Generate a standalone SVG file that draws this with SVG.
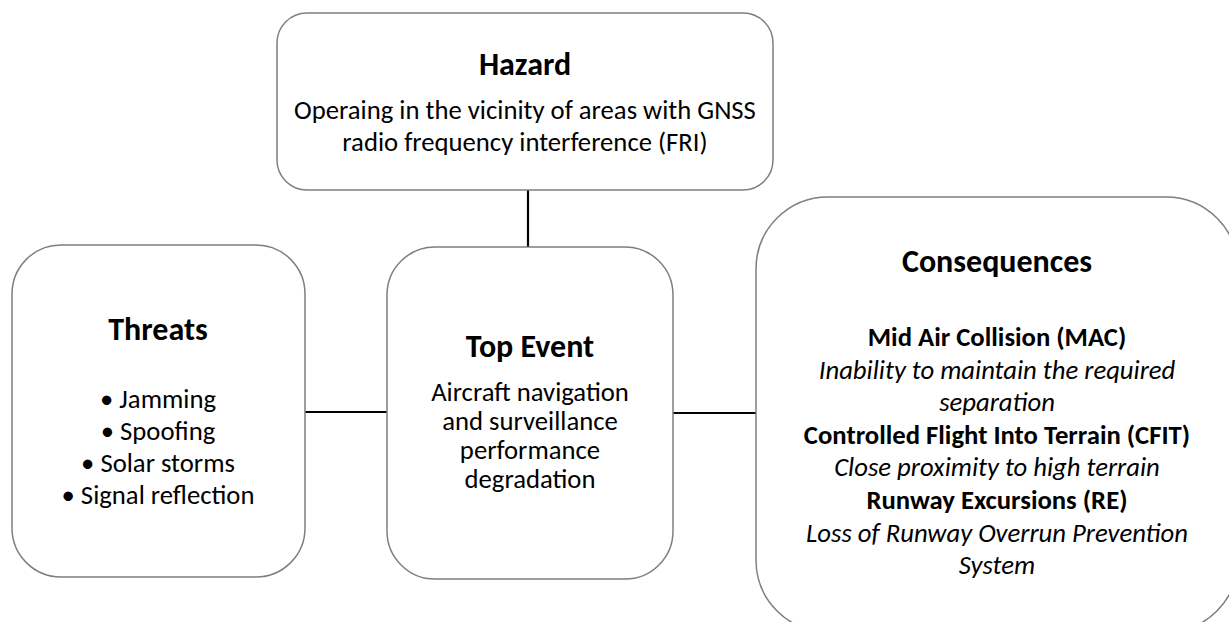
<svg xmlns="http://www.w3.org/2000/svg" width="1229" height="622" viewBox="0 0 1229 622">
<style>
.box{fill:#ffffff;stroke:#7f7f7f;stroke-width:1.5}
.conn{stroke:#000000;stroke-width:2.2;fill:none}
text{font-family:Carlito,Lato,"Liberation Sans",sans-serif;fill:#000000;text-anchor:middle}
.t{font-size:32px;font-weight:bold}
.b{font-size:26.7px}
.bb{font-size:26.7px;font-weight:bold}
.i{font-size:26.7px;font-style:italic}
</style>
<rect width="1229" height="622" fill="#ffffff"/>
<g id="connectors">
<line class="conn" x1="528" y1="190" x2="528" y2="247"/>
<line class="conn" x1="305" y1="412" x2="387" y2="412"/>
<line class="conn" x1="673" y1="413" x2="756" y2="413"/>
</g>
<g id="hazard">
<rect class="box" x="277" y="13" width="496" height="177" rx="30" ry="30"/>
<text class="t" x="525" y="75">Hazard</text>
<text class="b" x="525" y="119">Operaing in the vicinity of areas with GNSS</text>
<text class="b" x="525" y="151">radio frequency interference (FRI)</text>
</g>
<g id="threats">
<rect class="box" x="12" y="245" width="293" height="332" rx="49" ry="49"/>
<text class="t" x="158" y="340">Threats</text>
<text class="b" x="158" y="408">• Jamming</text>
<text class="b" x="158" y="440">• Spoofing</text>
<text class="b" x="158" y="472">• Solar storms</text>
<text class="b" x="158" y="504">• Signal reflection</text>
</g>
<g id="top-event">
<rect class="box" x="387" y="247" width="286" height="332" rx="48" ry="48"/>
<text class="t" x="530" y="357">Top Event</text>
<text class="b" x="530" y="401">Aircraft navigation</text>
<text class="b" x="530" y="430">and surveillance</text>
<text class="b" x="530" y="459">performance</text>
<text class="b" x="530" y="488">degradation</text>
</g>
<g id="consequences">
<rect class="box" x="756" y="197" width="482" height="435" rx="72" ry="72"/>
<text class="t" x="997" y="272">Consequences</text>
<text class="bb" x="997" y="346">Mid Air Collision (MAC)</text>
<text class="i" x="997" y="379">Inability to maintain the required</text>
<text class="i" x="997" y="411">separation</text>
<text class="bb" x="997" y="444">Controlled Flight Into Terrain (CFIT)</text>
<text class="i" x="997" y="476">Close proximity to high terrain</text>
<text class="bb" x="997" y="509">Runway Excursions (RE)</text>
<text class="i" x="997" y="542">Loss of Runway Overrun Prevention</text>
<text class="i" x="997" y="574">System</text>
</g>
</svg>
